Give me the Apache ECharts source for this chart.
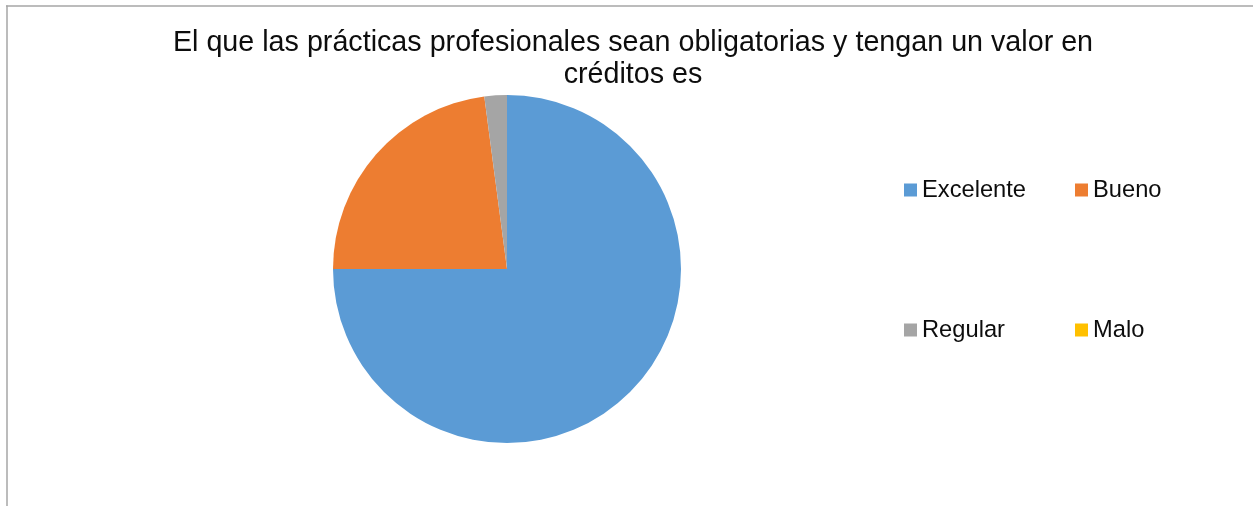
<!DOCTYPE html>
<html>
<head>
<meta charset="utf-8">
<script src="https://cdn.jsdelivr.net/npm/echarts@6/dist/echarts.min.js"></script>
<style>
  html, body { margin: 0; padding: 0; background: #fff; }
  #chart { width: 1253px; height: 506px; }
</style>
</head>
<body>
<div id="chart"></div>
<script>
const titleText = 'El que las prácticas profesionales sean obligatorias y tengan un valor en\ncréditos es';
const categories = ['Excelente', 'Bueno', 'Regular', 'Malo'];
const values = [36, 11, 1, 0];
const colors = ['#5B9BD5', '#ED7D31', '#A5A5A5', '#FFC000'];

const chart = echarts.init(document.getElementById('chart'), null, { renderer: 'canvas' });

const legendPos = [
  { left: 904, top: 178 },
  { left: 1075, top: 178 },
  { left: 904, top: 318 },
  { left: 1075, top: 318 }
];

const legends = categories.map((name, i) => ({
  data: [name],
  left: legendPos[i].left,
  top: legendPos[i].top,
  padding: 0,
  icon: 'rect',
  itemWidth: 13,
  itemHeight: 13,
  selectedMode: false,
  textStyle: { fontFamily: '"Liberation Sans", Arial, sans-serif', fontSize: 23.7, color: '#0d0d0d' }
}));

chart.setOption({
  backgroundColor: '#ffffff',
  animation: false,
  color: colors,
  title: {
    text: titleText,
    left: 633,
    top: 27,
    textAlign: 'center',
    padding: 0,
    textStyle: {
      fontFamily: '"Liberation Sans", Arial, sans-serif',
      fontSize: 28.7,
      fontWeight: 'normal',
      lineHeight: 32,
      color: '#0d0d0d',
      align: 'center'
    }
  },
  legend: legends,
  graphic: [
    { type: 'line', shape: { x1: 6, y1: 6, x2: 1253, y2: 6 }, style: { stroke: '#a6a6a6', lineWidth: 1.5 }, silent: true },
    { type: 'line', shape: { x1: 7, y1: 5.5, x2: 7, y2: 506 }, style: { stroke: '#a6a6a6', lineWidth: 1.5 }, silent: true }
  ],
  series: [{
    type: 'pie',
    center: [507, 269],
    radius: 174,
    startAngle: 90,
    clockwise: true,
    label: { show: false },
    labelLine: { show: false },
    emphasis: { disabled: true },
    itemStyle: { borderWidth: 0 },
    data: categories.map((name, i) => ({ name: name, value: values[i] }))
  }]
});
</script>
</body>
</html>
